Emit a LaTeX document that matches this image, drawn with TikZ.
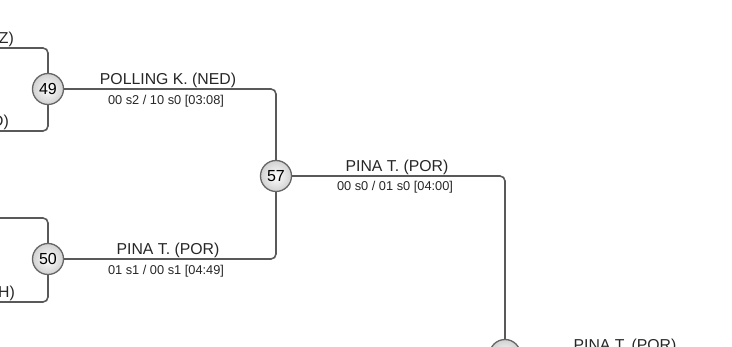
\documentclass[tikz,border=0pt]{standalone}
\usepackage{fontspec}
\setmainfont{Liberation Sans}
\tikzset{
  match/.style={
    circle,
    draw=black!60,
    line width=1.3pt,
    inner sep=0pt,
    minimum size=31pt,
    inner color=white,
    outer color=black!18,
    font=\fontsize{16}{18}\selectfont
  },
  wire/.style={
    draw=black!65,
    line width=1.6pt,
    rounded corners=5pt
  },
  player/.style={
    anchor=base,
    inner sep=0pt,
    text=black!85,
    font=\fontsize{15.8}{18}\selectfont
  },
  score/.style={
    anchor=base,
    inner sep=0pt,
    text=black!85,
    font=\fontsize{12.8}{15}\selectfont
  }
}
\usetikzlibrary{positioning}

\begin{document}
\begin{tikzpicture}[x=1pt, y=-1pt]
  \useasboundingbox (0,0) rectangle (732,347);
  \clip (0,0) rectangle (732,347);

  % matches
  \node[match] (m49) at (48,89) {49};
  \node[match] (m50) at (48,259) {50};
  \node[match] (m57) at (276,176) {57};
  \node[match] (m61) at (505,355) {};

  % incoming lines
  \coordinate (in49a) at (-10,48);
  \coordinate (in49b) at (-10,131);
  \coordinate (in50a) at (-10,218);
  \coordinate (in50b) at (-10,302);
  \coordinate (out61) at (745,355);

  \draw[wire] (in49a) -| (m49.north);
  \draw[wire] (in49b) -| (m49.south);
  \draw[wire] (in50a) -| (m50.north);
  \draw[wire] (in50b) -| (m50.south);

  \draw[wire] (m49.east) -| (m57.north);
  \draw[wire] (m50.east) -| (m57.south);
  \draw[wire] (m57.east) -| (m61.north);
  \draw[wire] (m61.east) -- (out61);

  % names and scores
  \node[player, anchor=base east] (p49a) at (14,44) {Z)};
  \node[player, anchor=base east] (p49b) at (9,127) {D)};
  \node[player, anchor=base east] (p50b) at (15,298) {H)};

  \node[player] (p57a) at (168,85) {POLLING K. (NED)};
  \node[score] (s57a) at (166,105) {00 s2 / 10 s0 [03:08]};

  \node[player] (p57b) at (168,255) {PINA T. (POR)};
  \node[score] (s57b) at (166,275) {01 s1 / 00 s1 [04:49]};

  \node[player] (p61a) at (397,172) {PINA T. (POR)};
  \node[score] (s61a) at (395,191) {00 s0 / 01 s0 [04:00]};

  \node[player] (pfin) at (625,351) {PINA T. (POR)};
\end{tikzpicture}
\end{document}
